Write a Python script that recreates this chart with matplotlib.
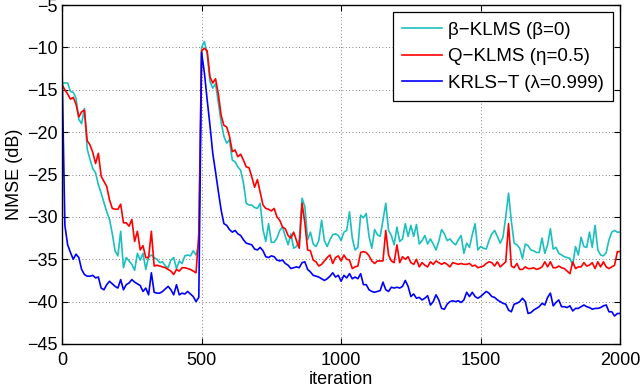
import numpy as np
import matplotlib
matplotlib.use("Agg")
import matplotlib.pyplot as plt

iterations = list(range(0, 2001, 10))

krls_t = [
    -12.7, -31.0, -33.3, -34.2, -35.0, -34.4, -34.8, -36.2, -36.8, -37.0,
    -37.0, -36.9, -37.2, -37.1, -38.4, -38.6, -38.0, -37.6, -37.9, -38.2,
    -38.4, -37.4, -38.6, -38.0, -37.8, -37.4, -37.7, -37.9, -38.1, -38.8,
    -38.4, -39.2, -36.6, -38.9, -39.0, -39.0, -38.8, -38.5, -38.2, -38.6,
    -39.2, -38.0, -39.2, -39.0, -39.1, -38.8, -39.1, -39.4, -40.0, -39.5,
    -10.6, -13.0, -16.2, -19.2, -22.5, -24.7, -27.0, -29.2, -30.8, -31.0,
    -31.5, -31.8, -31.6, -32.0, -32.2, -32.7, -33.1, -33.2, -33.3, -33.8,
    -33.9, -33.6, -34.0, -34.7, -34.8, -34.6, -34.7, -35.1, -35.2, -35.1,
    -35.5, -35.7, -36.1, -36.0, -35.9, -36.0, -35.4, -35.3, -36.2, -36.5,
    -36.9, -37.0, -37.1, -37.3, -37.5, -37.3, -37.0, -36.6, -37.1, -36.9,
    -37.6, -36.9, -37.2, -36.7, -37.3, -37.1, -37.3, -36.7, -38.0, -38.0,
    -38.6, -38.8, -38.9, -38.8, -38.7, -37.7, -38.6, -38.8, -38.3, -38.4,
    -38.3, -38.4, -38.2, -37.5, -38.2, -39.4, -39.1, -39.6, -39.5, -39.8,
    -39.6, -39.3, -40.4, -40.0, -39.2, -39.8, -40.8, -40.9, -40.3, -40.0,
    -39.9, -40.0, -39.9, -40.1, -39.8, -38.9, -39.4, -38.9, -39.4, -39.6,
    -39.4, -39.1, -38.8, -39.0, -39.4, -39.5, -39.8, -40.0, -40.2, -40.3,
    -41.0, -41.2, -40.3, -40.2, -40.0, -39.6, -40.0, -41.4, -41.3, -41.0,
    -40.8, -40.6, -40.2, -40.4, -39.5, -39.0, -40.5, -40.1, -39.8, -40.6,
    -40.6, -40.7, -40.5, -41.1, -40.8, -40.8, -40.6, -40.4, -40.6, -40.7,
    -40.9, -40.8, -40.8, -40.7, -40.5, -40.4, -41.2, -41.2, -41.7, -41.4,
    -41.4,
]

q_klms = [
    -14.4, -15.0, -15.5, -16.1, -15.9, -16.7, -18.2, -17.6, -17.4, -21.0,
    -21.5, -22.4, -23.7, -22.5, -25.2, -25.8, -26.4, -28.0, -29.0, -29.1,
    -29.1, -28.5, -30.7, -30.7, -31.1, -30.3, -32.9, -31.7, -33.9, -33.4,
    -34.8, -34.8, -31.7, -35.8, -35.7, -35.8, -35.9, -36.0, -36.2, -36.4,
    -36.8, -36.2, -36.4, -36.0, -36.0, -36.1, -36.2, -36.4, -36.6, -32.0,
    -10.4, -10.1, -10.4, -13.5, -14.2, -13.7, -15.5, -18.0, -19.2, -19.4,
    -20.5, -22.3, -22.1, -22.9, -22.6, -23.3, -24.1, -24.2, -25.3, -26.5,
    -25.6, -27.1, -28.6, -29.0, -29.1, -29.3, -29.0, -30.0, -30.4, -31.2,
    -31.4, -32.2, -32.5, -31.8, -32.8, -33.7, -28.4, -30.7, -33.9, -34.0,
    -35.1, -35.3, -35.8, -35.6, -35.2, -34.8, -34.5, -35.5, -34.8, -34.6,
    -35.2, -34.5, -35.0, -35.1, -36.1, -35.9, -35.8, -34.2, -34.1, -34.2,
    -34.6, -35.2, -35.5, -35.2, -35.2, -35.2, -31.6, -34.5, -35.2, -35.4,
    -33.3, -35.4, -34.7, -35.0, -34.7, -35.4, -35.6, -35.0, -35.9, -35.4,
    -35.7, -35.9, -35.3, -35.6, -35.2, -35.4, -35.6, -35.4, -35.6, -35.9,
    -35.4, -35.5, -35.6, -35.5, -35.6, -35.6, -35.5, -35.8, -35.7, -36.0,
    -35.9, -35.8, -35.5, -35.3, -35.4, -35.8, -35.3, -35.9, -35.6, -35.3,
    -30.8, -35.8, -36.0, -35.5, -36.2, -36.2, -35.9, -36.1, -36.1, -36.0,
    -36.2, -36.1, -35.9, -35.3, -35.9, -35.3, -36.0, -36.0, -35.8, -36.0,
    -36.1, -36.4, -36.7, -35.3, -36.1, -35.9, -35.9, -35.4, -35.8, -35.7,
    -35.4, -36.1, -35.3, -35.9, -35.3, -35.9, -36.1, -35.9, -35.7, -34.1,
    -34.1,
]

beta_klms = [
    -14.2, -14.2, -14.2, -15.2, -15.3, -16.0, -18.5, -19.0, -17.2, -22.0,
    -23.2, -24.3, -24.8, -26.2, -27.2, -28.3, -29.4, -30.3, -32.0, -34.0,
    -34.6, -31.7, -36.0, -34.8, -35.2, -35.6, -36.3, -34.3, -35.1, -34.3,
    -36.2, -34.7, -34.5, -34.8, -35.0, -35.4, -35.3, -35.8, -36.0, -35.1,
    -34.8, -36.1, -35.2, -35.5, -34.6, -34.5, -34.6, -34.0, -34.5, -33.3,
    -10.0, -9.3, -10.8, -14.0, -14.8, -14.3, -16.5, -18.8, -20.5, -21.3,
    -20.9, -23.3, -23.5, -24.1, -24.5, -26.0, -28.4, -28.6, -28.6, -28.9,
    -29.0, -28.4, -31.5, -32.9, -30.8, -33.0, -33.0, -32.5, -31.6, -31.2,
    -32.3, -33.3, -32.0, -33.7, -33.5, -32.7, -27.8, -28.8, -32.7, -31.8,
    -33.2, -33.5, -32.8, -30.4, -32.8, -33.5, -32.7, -32.1, -32.0, -32.2,
    -32.8, -31.8, -31.6, -29.4, -32.5, -33.9, -33.6, -29.8, -30.1, -29.6,
    -32.3, -33.7, -31.5, -32.1, -32.3, -30.4, -28.4, -31.6, -32.2, -33.3,
    -31.2, -32.9, -32.6, -30.8, -32.3, -31.0, -32.3, -30.9, -33.2, -32.8,
    -32.2, -33.2, -32.6, -33.2, -33.9, -32.9, -31.5, -32.0, -32.8, -32.6,
    -33.0, -33.3, -32.7, -32.2, -34.3, -33.1, -33.6, -32.1, -30.8, -33.9,
    -33.5, -33.7, -33.8, -32.8, -32.0, -31.6, -32.3, -33.1, -32.4, -30.0,
    -27.2, -30.5, -33.1, -33.3, -33.7, -34.9, -33.2, -33.4, -33.9, -34.0,
    -34.2, -34.2, -32.5, -34.3, -33.3, -31.4, -33.8, -33.6, -34.3, -34.5,
    -34.7, -34.8, -34.9, -35.7, -33.5, -34.5, -32.4, -33.5, -33.6, -31.8,
    -33.6, -31.0, -33.9, -34.5, -34.6, -34.2, -32.7, -31.8, -31.6, -31.8,
    -31.8,
]

series_labels = ["\u03b2\u2212KLMS (\u03b2=0)", "Q\u2212KLMS (\u03b7=0.5)",
                 "KRLS\u2212T (\u03bb=0.999)"]
x_ticks = [0, 500, 1000, 1500, 2000]
y_ticks = [-45, -40, -35, -30, -25, -20, -15, -10, -5]

plt.rcParams['font.family'] = ['Liberation Sans', 'DejaVu Sans']
plt.rcParams['axes.unicode_minus'] = True

fig = plt.figure(figsize=(6.4, 3.9), dpi=100)
ax = fig.add_axes([0.097, 0.118, 0.872, 0.869])

ax.plot(iterations, beta_klms, color='#1cbfbf', lw=1.2, label=series_labels[0])
ax.plot(iterations, q_klms, color='#ff0000', lw=1.2, label=series_labels[1])
ax.plot(iterations, krls_t, color='#0000ff', lw=1.2, label=series_labels[2])

ax.set_xlim(0, 2000)
ax.set_ylim(-45, -5)
ax.set_xticks(x_ticks)
ax.set_yticks(y_ticks)
ax.grid(True, linestyle=(0, (1, 3)), color='#555555', linewidth=0.6)
ax.tick_params(direction='in', top=True, right=True, labelsize=13, length=4, width=0.8)
ax.tick_params(axis='x', pad=6)
ax.tick_params(axis='y', pad=3)
for s in ax.spines.values():
    s.set_linewidth(1.0)

ax.set_xlabel('iteration', fontsize=13, labelpad=1)
ax.set_ylabel('NMSE (dB)', fontsize=13, labelpad=3)

leg = ax.legend(loc='upper right', bbox_to_anchor=(0.9875, 0.979), borderaxespad=0,
                fancybox=False, framealpha=1, edgecolor='black', fontsize=13.5,
                handlelength=2.15, handletextpad=0.3, labelspacing=0.5,
                borderpad=0.5)
leg.get_frame().set_linewidth(0.9)

fig.savefig('out.png', dpi=100)
